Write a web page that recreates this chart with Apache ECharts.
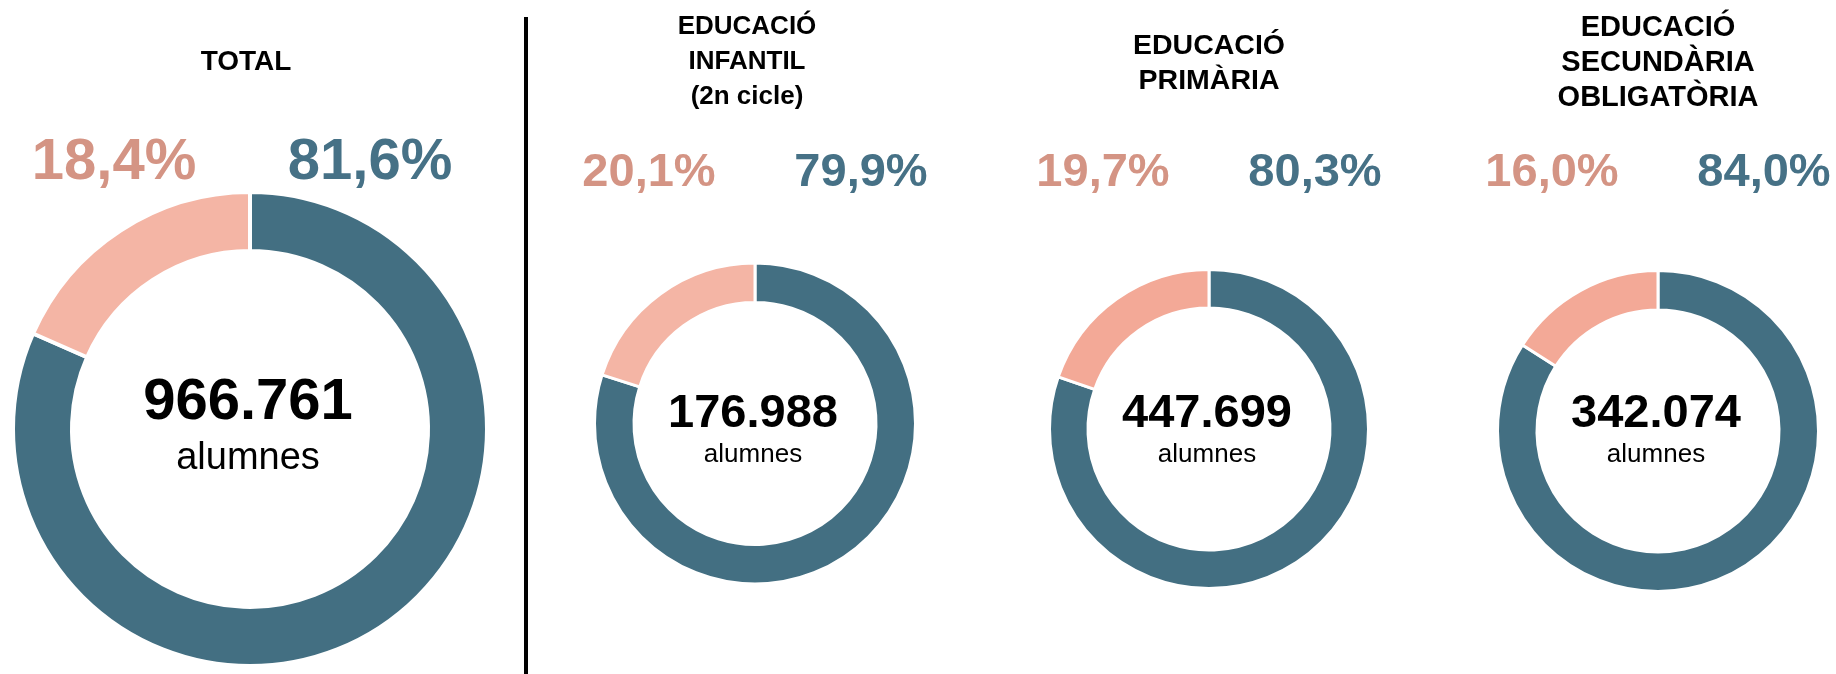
<!DOCTYPE html>
<html>
<head>
<meta charset="utf-8">
<script src="https://cdn.jsdelivr.net/npm/echarts@6/dist/echarts.min.js"></script>
<style>
  html, body { margin: 0; padding: 0; background: #fff; }
  #main { width: 1836px; height: 674px; }
</style>
</head>
<body>
<div id="main"></div>
<script>
// dades
var categories = ['TOTAL', 'EDUCACIÓ\nINFANTIL\n(2n cicle)', 'EDUCACIÓ\nPRIMÀRIA', 'EDUCACIÓ\nSECUNDÀRIA\nOBLIGATÒRIA'];
var alumnes = [966761, 176988, 447699, 342074];
var pctTeal = [81.6, 79.9, 80.3, 84.0];
var pctPink = [18.4, 20.1, 19.7, 16.0];

// colors
var teal = '#436f82';
var pinkRing = ['#f4b5a5', '#f4b5a5', '#f3a997', '#f3a997'];
var pinkText = '#d49484';
var tealText = '#467186';
var FONT = '"Liberation Sans", Arial, sans-serif';

// disposició (centre i radis de cada anell)
var centers = [[250, 429], [755, 423.5], [1209, 429], [1658, 431]];
var radii = [[178, 237], [121, 160.5], [121, 159.5], [121, 160.5]];
var titleSize = [28, 26, 28.5, 29];
var titleY = [62, 62, 64, 63];

function fmtPct(v){ return v.toFixed(1).replace('.', ',') + '%'; }
function fmtNum(v){ return String(v).replace(/\B(?=(\d{3})+(?!\d))/g, '.'); }

var series = [];
var graphic = [];

categories.forEach(function(cat, i){
    var big = i === 0;
    var c = centers[i];
    series.push({
        type: 'pie',
        center: c,
        radius: radii[i],
        startAngle: 90,
        clockwise: true,
        silent: true,
        label: { show: false },
        labelLine: { show: false },
        itemStyle: { borderColor: '#fff', borderWidth: big ? 4 : 3 },
        data: [
            { name: 'teal', value: pctTeal[i], itemStyle: { color: teal } },
            { name: 'pink', value: pctPink[i], itemStyle: { color: pinkRing[i] } }
        ]
    });

    // títol
    graphic.push({
        type: 'text',
        x: c[0] - (i === 1 ? 8 : (i === 0 ? 4 : 0)),
        y: titleY[i],
        style: {
            text: cat,
            font: 'bold ' + titleSize[i] + 'px ' + FONT,
            lineHeight: 35,
            fill: '#000',
            textAlign: 'center',
            textVerticalAlign: 'middle'
        }
    });

    // percentatges
    var py = big ? 163 : 173;
    var off = big ? 128 : 106;
    graphic.push({
        type: 'text', x: c[0] - off - (big ? 8 : 0), y: py,
        style: { text: fmtPct(pctPink[i]), font: 'bold ' + (big ? 58 : 47) + 'px ' + FONT,
                 fill: pinkText, textAlign: 'center', textVerticalAlign: 'middle' }
    });
    graphic.push({
        type: 'text', x: c[0] + off - (big ? 8 : 0), y: py,
        style: { text: fmtPct(pctTeal[i]), font: 'bold ' + (big ? 58 : 47) + 'px ' + FONT,
                 fill: tealText, textAlign: 'center', textVerticalAlign: 'middle' }
    });

    // xifra central
    graphic.push({
        type: 'text', x: c[0] - 2, y: big ? 402.5 : 414,
        style: { text: fmtNum(alumnes[i]), font: 'bold ' + (big ? 58 : 47) + 'px ' + FONT,
                 fill: '#000', textAlign: 'center', textVerticalAlign: 'middle' }
    });
    graphic.push({
        type: 'text', x: c[0] - 2, y: big ? 459 : 455,
        style: { text: 'alumnes', font: (big ? 38 : 26) + 'px ' + FONT,
                 fill: '#000', textAlign: 'center', textVerticalAlign: 'middle' }
    });
});

// línia separadora
graphic.push({
    type: 'rect',
    shape: { x: 524, y: 17, width: 4, height: 660 },
    style: { fill: '#000' }
});

var myChart = echarts.init(document.getElementById('main'));
myChart.setOption({
    backgroundColor: '#fff',
    animation: false,
    series: series,
    graphic: graphic
});
</script>
</body>
</html>
